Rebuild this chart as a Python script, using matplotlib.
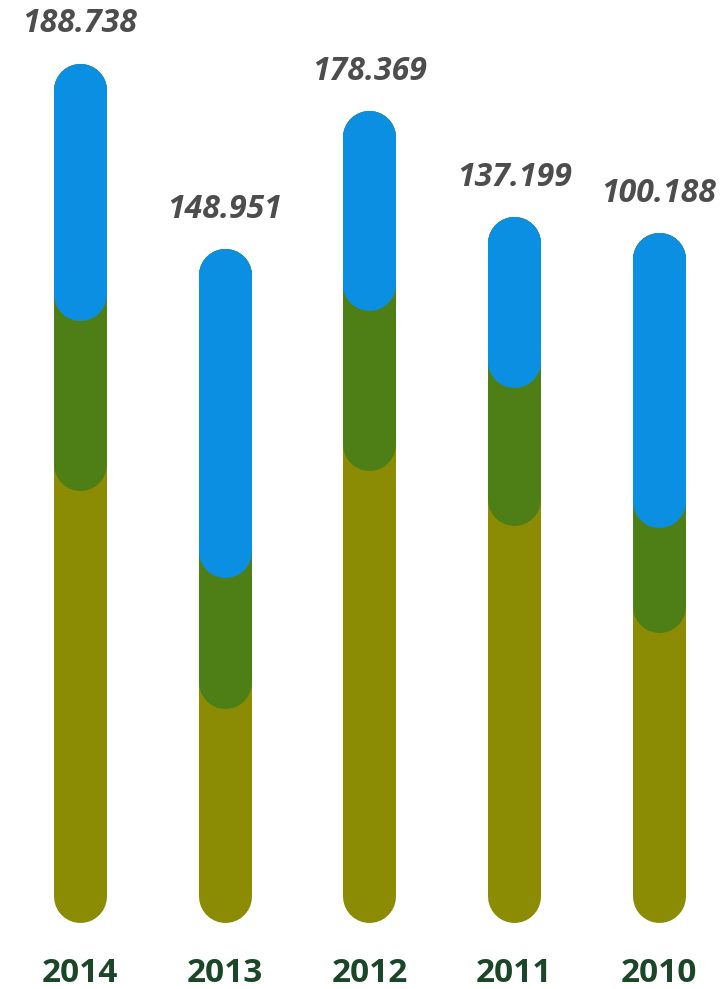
import matplotlib
matplotlib.use('Agg')
import matplotlib.pyplot as plt

years = ['2014', '2013', '2012', '2011', '2010']
totals = ['188.738', '148.951', '178.369', '137.199', '100.188']

# segment lengths (bottom -> top)
olive = [432, 214, 452, 397, 290]
green = [170, 131, 160, 138, 105]
blue = [257, 329, 200, 171, 295]

colOlive = '#8c8c04'
colGreen = '#4e7f16'
colBlue = '#0b8fe2'

fig = plt.figure(figsize=(7.28, 9.89), dpi=100)
ax = fig.add_axes([0, 0, 1, 1])
ax.set_xlim(-0.553, 4.477)
ax.set_ylim(-67, 922)  # one unit == one pixel vertically
ax.axis('off')

barWidth = 53 * 72 / 100.0  # px -> pt
r = 26.5  # cap radius in data units

for i in range(len(years)):
    top = olive[i] + green[i] + blue[i]
    # each segment is a round-capped line drawn over the one below
    ax.plot([i, i], [r, top - r], color=colOlive, lw=barWidth,
            solid_capstyle='round')
    ax.plot([i, i], [olive[i] + r, top - r], color=colGreen, lw=barWidth,
            solid_capstyle='round')
    ax.plot([i, i], [olive[i] + green[i] + r, top - r], color=colBlue,
            lw=barWidth, solid_capstyle='round')

    ax.text(i, top + 39, totals[i], ha='center', va='center',
            fontsize=23, fontstyle='italic', fontweight='bold',
            color='#4d4d4d', family='Open Sans')
    ax.text(i, -51, years[i], ha='center', va='center',
            fontsize=24, fontweight='bold', color='#1c4628',
            family='Open Sans')

fig.savefig('out.png', dpi=100)
